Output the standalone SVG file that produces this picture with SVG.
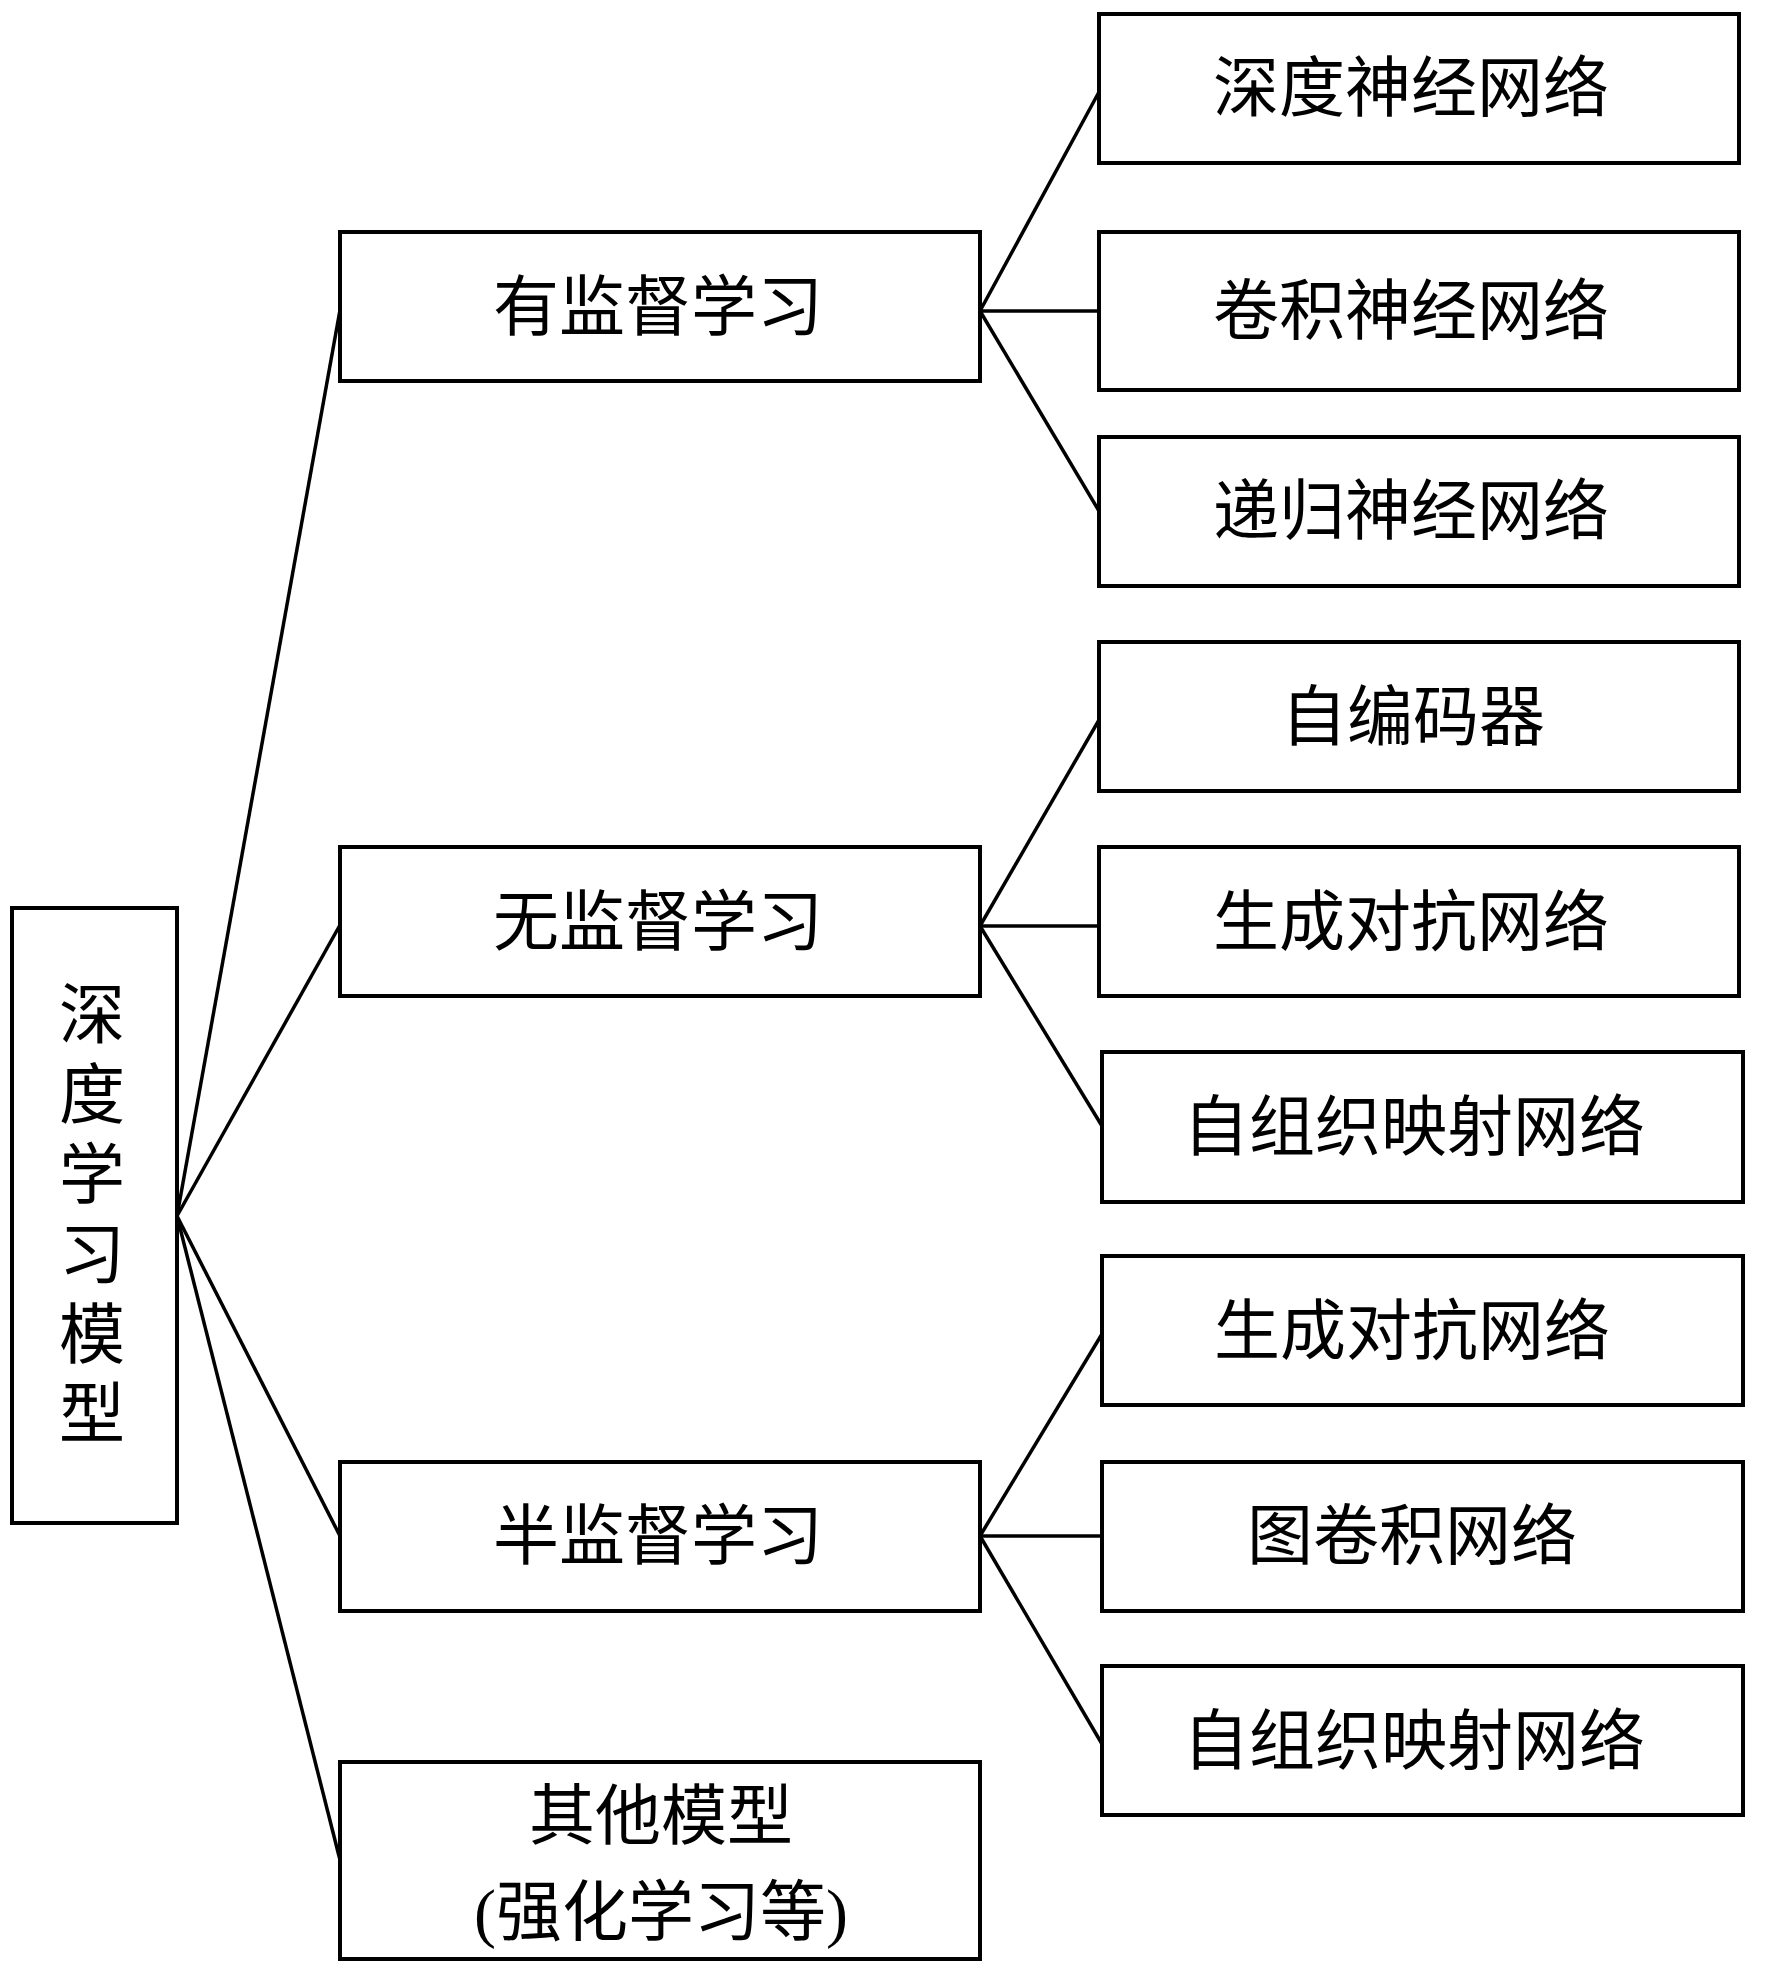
<svg xmlns="http://www.w3.org/2000/svg" width="1772" height="1977" viewBox="0 0 1772 1977">
<style>
.box{fill:#fff;stroke:#000;stroke-width:4}
.lbl{font-family:"Liberation Serif","Noto Sans CJK SC",serif;font-size:66px;fill:#000;text-anchor:middle;dominant-baseline:central}
.conn line{stroke:#000;stroke-width:3.5;fill:none}
</style>
<rect width="1772" height="1977" fill="#fff"/>
<g id="connectors" class="conn">
<line x1="177" y1="1216" x2="340" y2="310"/>
<line x1="177" y1="1216" x2="340" y2="925"/>
<line x1="177" y1="1216" x2="340" y2="1536"/>
<line x1="177" y1="1216" x2="340" y2="1860"/>
<line x1="980" y1="311" x2="1099" y2="92"/>
<line x1="980" y1="311" x2="1099" y2="311"/>
<line x1="980" y1="311" x2="1099" y2="511"/>
<line x1="980" y1="926" x2="1099" y2="720"/>
<line x1="980" y1="926" x2="1099" y2="926"/>
<line x1="980" y1="926" x2="1102" y2="1126"/>
<line x1="980" y1="1536" x2="1102" y2="1334"/>
<line x1="980" y1="1536" x2="1102" y2="1536"/>
<line x1="980" y1="1536" x2="1102" y2="1744"/>
</g>
<g id="root">
<rect class="box" x="12" y="908" width="165" height="615"/>
<text class="lbl" x="92" y="1015">深</text>
<text class="lbl" x="92" y="1095">度</text>
<text class="lbl" x="92" y="1175">学</text>
<text class="lbl" x="92" y="1255">习</text>
<text class="lbl" x="92" y="1335">模</text>
<text class="lbl" x="92" y="1414">型</text>
</g>
<g id="supervised">
<rect class="box" x="340" y="232" width="640" height="149"/>
<text class="lbl" x="658" y="307">有监督学习</text>
</g>
<g id="unsupervised">
<rect class="box" x="340" y="847" width="640" height="149"/>
<text class="lbl" x="658" y="922">无监督学习</text>
</g>
<g id="semisupervised">
<rect class="box" x="340" y="1462" width="640" height="149"/>
<text class="lbl" x="658" y="1536">半监督学习</text>
</g>
<g id="other">
<rect class="box" x="340" y="1762" width="640" height="197"/>
<text class="lbl" x="661" y="1816">其他模型</text>
<text class="lbl" x="661" y="1912">(强化学习等)</text>
</g>
<g id="dnn">
<rect class="box" x="1099" y="14" width="640" height="149"/>
<text class="lbl" x="1411" y="88">深度神经网络</text>
</g>
<g id="cnn">
<rect class="box" x="1099" y="232" width="640" height="158"/>
<text class="lbl" x="1411" y="311">卷积神经网络</text>
</g>
<g id="rnn">
<rect class="box" x="1099" y="437" width="640" height="149"/>
<text class="lbl" x="1411" y="511">递归神经网络</text>
</g>
<g id="autoencoder">
<rect class="box" x="1099" y="642" width="640" height="149"/>
<text class="lbl" x="1413" y="717">自编码器</text>
</g>
<g id="gan1">
<rect class="box" x="1099" y="847" width="640" height="149"/>
<text class="lbl" x="1411" y="922">生成对抗网络</text>
</g>
<g id="som1">
<rect class="box" x="1102" y="1052" width="641" height="150"/>
<text class="lbl" x="1414" y="1127">自组织映射网络</text>
</g>
<g id="gan2">
<rect class="box" x="1102" y="1256" width="641" height="149"/>
<text class="lbl" x="1412" y="1331">生成对抗网络</text>
</g>
<g id="gcn">
<rect class="box" x="1102" y="1462" width="641" height="149"/>
<text class="lbl" x="1412" y="1536">图卷积网络</text>
</g>
<g id="som2">
<rect class="box" x="1102" y="1666" width="641" height="149"/>
<text class="lbl" x="1414" y="1741">自组织映射网络</text>
</g>
</svg>
